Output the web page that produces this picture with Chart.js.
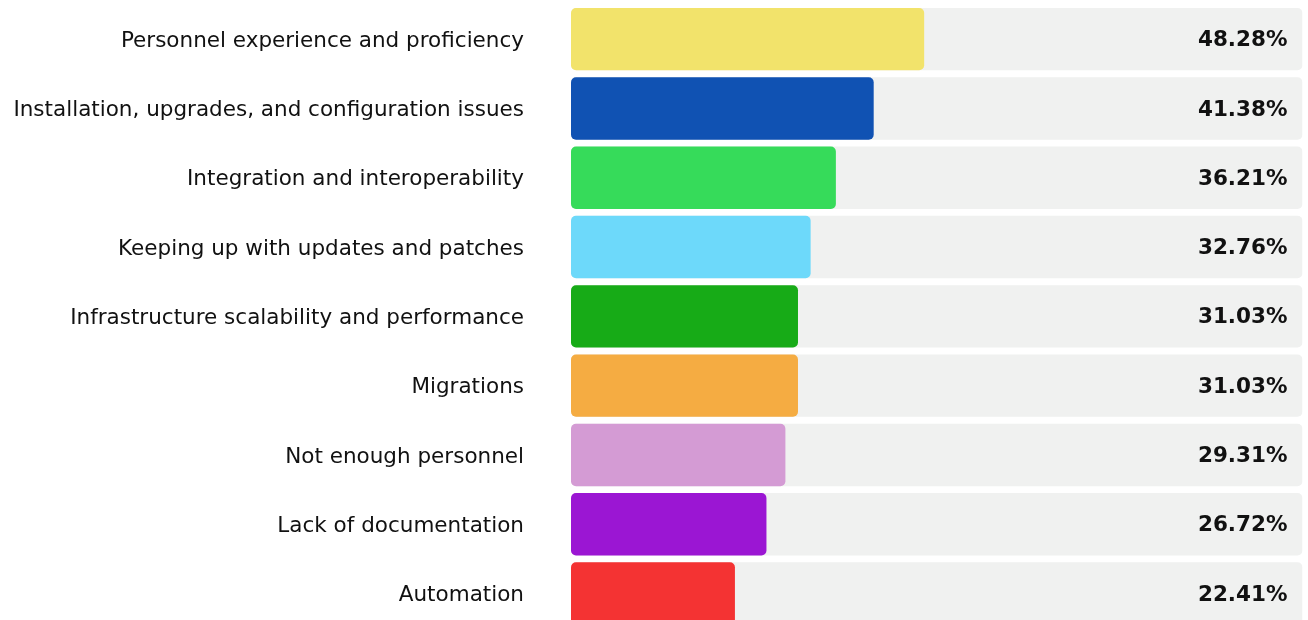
<!DOCTYPE html>
<html>
<head>
<meta charset="utf-8">
<script src="https://cdn.jsdelivr.net/npm/chart.js@4/dist/chart.umd.min.js"></script>
<style>
html,body{margin:0;padding:0;background:#fff;overflow:hidden;}
#wrap{width:1308px;height:632px;position:relative;}
</style>
</head>
<body>
<div id="wrap"><canvas id="c"></canvas></div>
<script>
const categories = [
  "Personnel experience and proficiency",
  "Installation, upgrades, and configuration issues",
  "Integration and interoperability",
  "Keeping up with updates and patches",
  "Infrastructure scalability and performance",
  "Migrations",
  "Not enough personnel",
  "Lack of documentation",
  "Automation"
];
const values = [48.28, 41.38, 36.21, 32.76, 31.03, 31.03, 29.31, 26.72, 22.41];
const barColors = ["#F2E36B","#1052B3","#36DB5A","#6DD9FA","#17AB17","#F5AC42","#D49BD4","#9B16D3","#F43333"];
const trackValues = [100,100,100,100,100,100,100,100,100];
const valueLabels = ["48.28%","41.38%","36.21%","32.76%","31.03%","31.03%","29.31%","26.72%","22.41%"];

const FONT = "'DejaVu Sans', sans-serif";

const valueLabelPlugin = {
  id: 'valueLabels',
  afterDatasetsDraw(chart) {
    const ctx = chart.ctx;
    const xs = chart.scales.x, ys = chart.scales.y;
    ctx.save();
    ctx.font = "bold 21.5px " + FONT;
    ctx.fillStyle = "#111111";
    ctx.textAlign = "right";
    ctx.textBaseline = "middle";
    valueLabels.forEach((t, i) => {
      ctx.fillText(t, xs.getPixelForValue(100) - 15, ys.getPixelForValue(i) + 1.5);
    });
    ctx.restore();
  }
};

new Chart(document.getElementById('c'), {
  type: 'bar',
  data: {
    labels: categories,
    datasets: [
      {
        data: values,
        backgroundColor: barColors,
        borderRadius: 5,
        borderSkipped: false,
        grouped: false,
        barPercentage: 0.9,
        categoryPercentage: 1.0
      },
      {
        data: trackValues,
        backgroundColor: "#F0F1F0",
        borderRadius: 5,
        borderSkipped: false,
        grouped: false,
        barPercentage: 0.9,
        categoryPercentage: 1.0
      }
    ]
  },
  options: {
    indexAxis: 'y',
    responsive: true,
    maintainAspectRatio: false,
    animation: false,
    layout: { padding: { top: 4.5, bottom: 3.8, right: 5.5, left: 0 } },
    plugins: { legend: { display: false }, tooltip: { enabled: false } },
    scales: {
      x: { display: false, min: 0, max: 100 },
      y: {
        grid: { display: false, drawTicks: false },
        border: { display: false },
        ticks: {
          color: "#111111",
          font: { family: FONT, size: 21.5 },
          padding: 47,
          labelOffset: 2
        },
        afterFit(scale) {
          scale.width = 571;
          scale.paddingTop = 0;
          scale.paddingBottom = 0;
        }
      }
    }
  },
  plugins: [valueLabelPlugin]
});
</script>
</body>
</html>
